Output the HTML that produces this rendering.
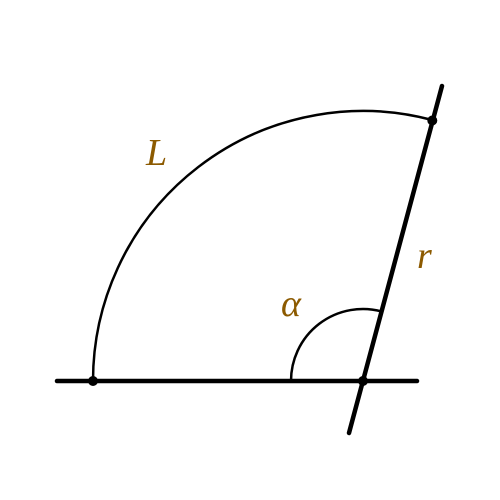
<!DOCTYPE html>
<html><head><meta charset="utf-8"><style>html,body{margin:0;padding:0;background:#fff;width:500px;height:500px;overflow:hidden}svg{display:block}</style></head>
<body>
<svg width="500" height="500" viewBox="0 0 500 500" xmlns="http://www.w3.org/2000/svg">
<path d="M93 381 A270 270 0 0 1 432.3 120" fill="none" stroke="#000" stroke-width="2.5"/>
<path d="M291 381 A72 72 0 0 1 381.5 311.4" fill="none" stroke="#000" stroke-width="2.5"/>
<line x1="57" y1="381" x2="417" y2="381" stroke="#000" stroke-width="4.5" stroke-linecap="round"/>
<line x1="349" y1="433" x2="442" y2="86" stroke="#000" stroke-width="4.5" stroke-linecap="round"/>
<circle cx="93" cy="381" r="5" fill="#000"/>
<circle cx="363" cy="381" r="5" fill="#000"/>
<circle cx="432.3" cy="120.5" r="5" fill="#000"/>
<g font-family="'Liberation Serif', serif" font-style="italic" font-size="38" fill="#8c5a00">
<text x="146" y="165">L</text>
<text x="417" y="268">r</text>
<text x="281" y="316">α</text>
</g>
</svg>
</body></html>
